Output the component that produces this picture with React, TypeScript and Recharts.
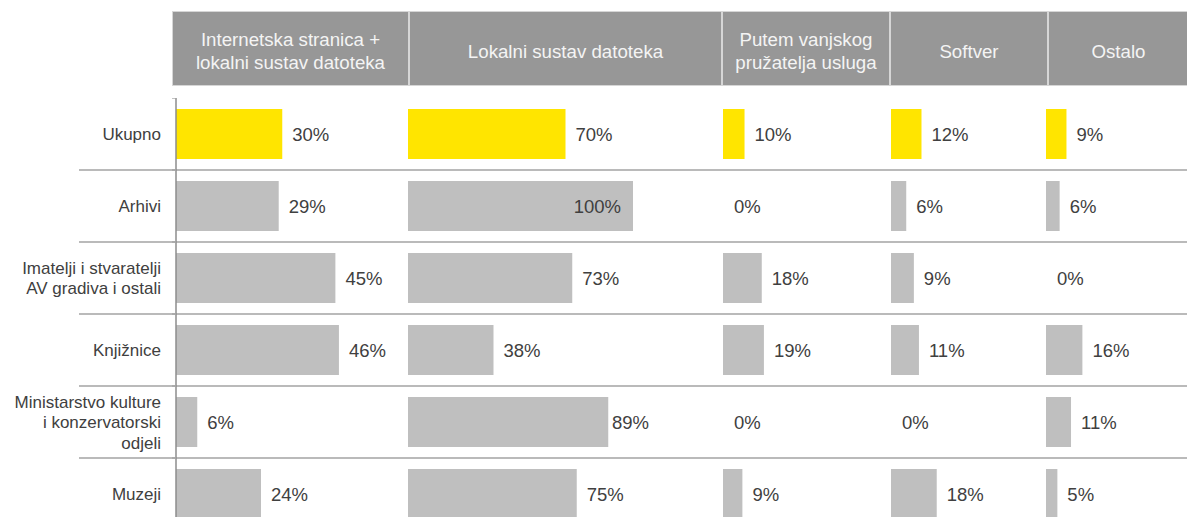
import React from 'react';
import { BarChart, Bar, XAxis, YAxis, Cell, LabelList, ReferenceLine } from 'recharts';

const categories = [
  'Ukupno',
  'Arhivi',
  'Imatelji i stvaratelji\nAV gradiva i ostali',
  'Knjižnice',
  'Ministarstvo kulture\ni konzervatorski\nodjeli',
  'Muzeji',
];

const panelTitles = [
  'Internetska stranica +\nlokalni sustav datoteka',
  'Lokalni sustav datoteka',
  'Putem vanjskog\npružatelja usluga',
  'Softver',
  'Ostalo',
];

const webAndLocal = [30, 29, 45, 46, 6, 24];
const localFiles = [70, 100, 73, 38, 89, 75];
const externalProvider = [10, 0, 18, 19, 0, 9];
const software = [12, 6, 9, 11, 0, 18];
const other = [9, 6, 0, 16, 11, 5];

const series = [webAndLocal, localFiles, externalProvider, software, other];

const FONT = '"Liberation Sans", Arial, Helvetica, sans-serif';
const HIGHLIGHT = '#FFE500';
const BAR = '#BFBFBF';
const SEP = '#A3A3A3';
const TEXT = '#404040';
const ROW = 72;
const CHART_TOP = 98;
const CHART_H = ROW * categories.length;

const panels = [
  { left: 0, width: 408, axisWidth: 176, max: 65.5, labelLimit: 10000 },
  { left: 408, width: 315, axisWidth: 0, max: 140, labelLimit: 241 },
  { left: 723, width: 168, axisWidth: 0, max: 78, labelLimit: 10000 },
  { left: 891, width: 155, axisWidth: 0, max: 61, labelLimit: 10000 },
  { left: 1046, width: 141, axisWidth: 0, max: 62, labelLimit: 10000 },
];

const headers = [
  { left: 172, width: 237 },
  { left: 409, width: 313 },
  { left: 722, width: 168 },
  { left: 890, width: 158 },
  { left: 1048, width: 141 },
];

const makeLabel = (limit: number) => (props: any) => {
  const { x, y, width, height, value } = props;
  const fs = 18.5;
  const text = `${value}%`;
  const w = (String(value).length * 0.556 + 0.889) * fs;
  const end = Number(x) + Number(width);
  let tx = end + 10;
  let anchor: 'start' | 'end' = 'start';
  if (tx + w > limit) {
    if (end + 2 + w <= limit) tx = limit - w;
    else {
      tx = end - 12;
      anchor = 'end';
    }
  }
  return (
    <text
      x={tx}
      y={Number(y) + Number(height) / 2}
      dy="0.36em"
      textAnchor={anchor}
      fill={TEXT}
      fontSize={fs}
      fontFamily={FONT}
    >
      {text}
    </text>
  );
};

const RowTick = (props: any) => {
  const { x, y, payload, index } = props;
  const lines = String(payload.value).split('\n');
  const lh = 20.5;
  const y0 = y - ((lines.length - 1) * lh) / 2;
  return (
    <g>
      <text textAnchor="end" fill={TEXT} fontSize={17} fontFamily={FONT}>
        {lines.map((l, i) => (
          <tspan key={i} x={x} y={y0 + i * lh} dy="0.36em">
            {l}
          </tspan>
        ))}
      </text>
      {index < categories.length - 1 && (
        <line x1={79} x2={176} y1={y + ROW / 2} y2={y + ROW / 2} stroke={SEP} strokeWidth={1.3} />
      )}
      <line x1={172} x2={176} y1={y - ROW / 2} y2={y - ROW / 2} stroke={SEP} strokeWidth={1.3} />
    </g>
  );
};

export default function App() {
  return (
    <div
      style={{
        position: 'absolute',
        left: 0,
        top: 0,
        width: 1187,
        height: 517,
        overflow: 'hidden',
        background: '#fff',
        fontFamily: FONT,
      }}
    >
      {headers.map((h, i) => (
        <div
          key={i}
          style={{
            position: 'absolute',
            left: h.left,
            top: 11,
            width: h.width,
            height: 75,
            boxSizing: 'border-box',
            border: '1px solid #D6D6D6',
            background: '#979797',
            color: '#F4F4F4',
            fontSize: 18.7,
            lineHeight: '23px',
            whiteSpace: 'pre-line',
            textAlign: 'center',
            display: 'flex',
            alignItems: 'center',
            justifyContent: 'center',
            paddingTop: 5,
          }}
        >
          {panelTitles[i]}
        </div>
      ))}
      {panels.map((p, pi) => {
        const data = categories.map((c, i) => ({ name: c, value: series[pi][i] }));
        return (
          <div key={pi} style={{ position: 'absolute', left: p.left, top: CHART_TOP }}>
            <BarChart
              width={p.width}
              height={CHART_H}
              data={data}
              layout="vertical"
              margin={{ top: 0, right: 0, bottom: 0, left: 0 }}
              barSize={50}
            >
              <XAxis type="number" domain={[0, p.max]} hide allowDataOverflow />
              {pi === 0 ? (
                <YAxis
                  type="category"
                  dataKey="name"
                  width={p.axisWidth}
                  axisLine={{ stroke: '#8C8C8C', strokeWidth: 1.5 }}
                  tickLine={false}
                  tickSize={0}
                  tickMargin={15}
                  interval={0}
                  tick={<RowTick />}
                />
              ) : (
                <YAxis type="category" dataKey="name" hide width={0} />
              )}
              {categories.slice(0, categories.length - 1).map((c) => (
                <ReferenceLine key={c} y={c} position="end" stroke={SEP} strokeWidth={1.3} />
              ))}
              <Bar dataKey="value" isAnimationActive={false} minPointSize={1}>
                {data.map((d, i) => (
                  <Cell
                    key={i}
                    fill={d.value === 0 ? 'rgba(0,0,0,0)' : i === 0 ? HIGHLIGHT : BAR}
                  />
                ))}
                <LabelList dataKey="value" content={makeLabel(p.labelLimit)} />
              </Bar>
            </BarChart>
          </div>
        );
      })}
    </div>
  );
}
